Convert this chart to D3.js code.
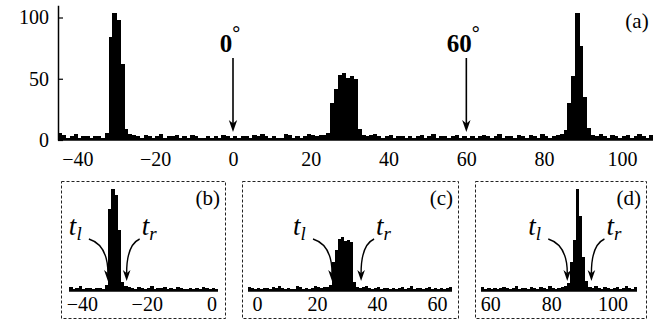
<!DOCTYPE html>
<html>
<head>
<meta charset="utf-8">
<script src="https://cdn.jsdelivr.net/npm/d3@7"></script>
<style>
  body { margin: 0; background: #fff; }
  svg, svg text { font-family: 'Liberation Serif', 'DejaVu Serif', 'Times New Roman', Times, serif; }
</style>
</head>
<body>
<div id="chart"></div>
<script>
// histogram, 1 degree bins, first bin starts at -45
const binStart = -45;
const binWidth = 1;
const counts = [
  6, 4, 2, 3, 5, 2, 3, 3, 2, 3,        // -45 .. -36
  3, 2, 6, 84, 104, 98, 62, 9, 5, 4,   // -35 .. -26
  3, 2, 4, 3, 2, 3, 5, 2, 3, 3,        // -25 .. -16
  4, 2, 3, 2, 4, 3, 2, 2, 3, 2,        // -15 .. -6
  3, 2, 4, 3, 2, 3, 2, 3, 3, 2,        // -5 .. 4
  4, 3, 5, 3, 2, 3, 2, 2, 5, 4,        // 5 .. 14
  2, 3, 2, 3, 5, 4, 3, 4, 4, 6,        // 15 .. 24
  30, 42, 53, 55, 51, 52, 50, 9, 4, 3, // 25 .. 34
  4, 5, 3, 2, 3, 4, 2, 3, 3, 2,        // 35 .. 44
  3, 2, 3, 4, 2, 3, 5, 2, 3, 3,        // 45 .. 54
  2, 3, 4, 2, 3, 2, 3, 2, 3, 4,        // 55 .. 64
  3, 2, 3, 5, 2, 3, 3, 2, 4, 3,        // 65 .. 74
  2, 4, 3, 2, 5, 3, 2, 3, 4, 5,        // 75 .. 84
  8, 30, 52, 104, 77, 35, 10, 4, 3, 5, // 85 .. 94
  3, 2, 4, 3, 2, 3, 4, 2, 3, 5,        // 95 .. 104
  3, 2, 4                              // 105 .. 107
];

const mainTicksX = [-40, -20, 0, 20, 40, 60, 80, 100];
const mainTicksY = [0, 50, 100];
const markerAngles = [0, 60];

// insets: label, bin range shown, tick labels
const insetNames = ["(b)", "(c)", "(d)"];
const insetBins = [[-44, 1], [-3, 64], [57, 107]];
const insetTicks = [[-40, -20, 0], [0, 20, 40, 60], [60, 80, 100]];
const leftEdges = [-32, 25, 85.2];      // t_l arrow tips
const rightEdges = [-26.2, 34.7, 93.1]; // t_r arrow tips

const bins = counts.map((c, i) => ({ x0: binStart + i * binWidth, value: c }));

const width = 671, height = 324;
const svg = d3.select("#chart").append("svg")
  .attr("width", width)
  .attr("height", height);

function drawBars(g, data, x, y) {
  g.append("g")
    .selectAll("rect")
    .data(data)
    .enter()
    .append("rect")
    .attr("x", d => x(d.x0))
    .attr("y", d => y(d.value))
    .attr("width", d => x(d.x0 + binWidth) - x(d.x0) + 0.4)
    .attr("height", d => y(0) - y(d.value))
    .attr("fill", "#000")
    .attr("shape-rendering", "crispEdges");
}

// ---- main panel (a)
const x = d3.scaleLinear().domain([-45, 108]).range([58, 653]);
const y = d3.scaleLinear().domain([0, 110]).range([140, 5.25]);

drawBars(svg, bins, x, y);

svg.append("line")
  .attr("x1", x.range()[0]).attr("x2", x.range()[1])
  .attr("y1", y(0)).attr("y2", y(0))
  .attr("stroke", "#000").attr("stroke-width", 1.5);

const xAxis = svg.append("g")
  .attr("transform", `translate(0,${y(0)})`)
  .call(d3.axisBottom(x).tickValues(mainTicksX).tickSize(0).tickPadding(12))
  .attr("font-family", null).attr("font-size", 20);
xAxis.select(".domain").remove();

const yAxis = svg.append("g")
  .attr("transform", `translate(${x.range()[0]},0)`)
  .call(d3.axisLeft(y).tickValues(mainTicksY).tickSizeInner(-5).tickSizeOuter(0).tickPadding(9))
  .attr("font-family", null).attr("font-size", 20);
yAxis.select(".domain").attr("stroke-width", 1.5);
yAxis.selectAll(".tick line").attr("stroke-width", 1.2);

// arrow head pointing along angle (radians, PI/2 = down)
function arrowHead(g, tx, ty, angle, len, half) {
  const c = Math.cos(angle), s = Math.sin(angle);
  const pts = [
    [tx, ty],
    [tx - len * c + half * s, ty - len * s - half * c],
    [tx - len * 0.7 * c, ty - len * 0.7 * s],
    [tx - len * c - half * s, ty - len * s + half * c]
  ];
  g.append("path")
    .attr("d", d3.line()(pts) + "Z")
    .attr("fill", "#000");
}

// vertical markers at 0 and 60 degrees
markerAngles.forEach(a => {
  const px = x(a);
  svg.append("line")
    .attr("x1", px).attr("x2", px)
    .attr("y1", 58).attr("y2", 124)
    .attr("stroke", "#000").attr("stroke-width", 1.6);
  arrowHead(svg, px, 132, Math.PI / 2, 12, 4.2);
  const t = svg.append("text")
    .attr("x", px - 3)
    .attr("y", 52)
    .attr("text-anchor", "middle")
    .attr("font-size", 25)
    .attr("font-weight", "bold");
  t.append("tspan").text(String(a));
  t.append("tspan").attr("font-size", 20).attr("dy", -12).text("°");
});

svg.append("text")
  .attr("x", 637).attr("y", 28)
  .attr("text-anchor", "middle")
  .attr("font-size", 21)
  .text("(a)");

// ---- insets (b), (c), (d)
const boxes = [[61, 225], [242, 458], [475, 646]];
const insetRanges = [[69, 218], [248, 452], [481, 637]];
const boxTop = 181, boxBottom = 318;
const yIn = d3.scaleLinear().domain([0, 100]).range([291, 193]);

insetNames.forEach((name, k) => {
  const g = svg.append("g");
  const [lo, hi] = insetBins[k];
  const xi = d3.scaleLinear().domain([lo, hi + 1]).range(insetRanges[k]);

  g.append("rect")
    .attr("x", boxes[k][0] + 0.5).attr("y", boxTop + 0.5)
    .attr("width", boxes[k][1] - boxes[k][0])
    .attr("height", boxBottom - boxTop)
    .attr("fill", "none")
    .attr("stroke", "#222")
    .attr("stroke-width", 1)
    .attr("stroke-dasharray", "3,2");

  drawBars(g, bins.filter(d => d.x0 >= lo && d.x0 <= hi), xi, yIn);

  g.append("line")
    .attr("x1", xi(lo)).attr("x2", xi(hi + 1))
    .attr("y1", yIn(0)).attr("y2", yIn(0))
    .attr("stroke", "#000").attr("stroke-width", 1.5);

  const ax = g.append("g")
    .attr("transform", `translate(0,${yIn(0)})`)
    .call(d3.axisBottom(xi).tickValues(insetTicks[k]).tickSize(0).tickPadding(6))
    .attr("font-family", null).attr("font-size", 20);
  ax.select(".domain").remove();

  g.append("text")
    .attr("x", boxes[k][1] - 5).attr("y", 205)
    .attr("text-anchor", "end")
    .attr("font-size", 21)
    .text(name);

  // t_l arrow
  const lx = xi(leftEdges[k]), tipY = 281;
  const ls = [lx - 19, 239];
  g.append("path")
    .attr("d", `M${ls[0]},${ls[1]} Q${lx},${ls[1] + 6} ${lx},${tipY - 8}`)
    .attr("fill", "none").attr("stroke", "#000").attr("stroke-width", 1.4);
  arrowHead(g, lx, tipY, Math.PI / 2, 11, 3.8);
  const tl = g.append("text")
    .attr("x", lx - 39).attr("y", 235)
    .attr("font-size", 27).attr("font-style", "italic");
  tl.append("tspan").text("t");
  tl.append("tspan").attr("font-size", 19).attr("dy", 5).text("l");

  // t_r arrow
  const rx = xi(rightEdges[k]);
  const rs = [rx + 13, 239];
  g.append("path")
    .attr("d", `M${rs[0]},${rs[1]} Q${rx},${rs[1] + 6} ${rx},${tipY - 8}`)
    .attr("fill", "none").attr("stroke", "#000").attr("stroke-width", 1.4);
  arrowHead(g, rx, tipY, Math.PI / 2, 11, 3.8);
  const tr = g.append("text")
    .attr("x", rx + 15).attr("y", 235)
    .attr("font-size", 27).attr("font-style", "italic");
  tr.append("tspan").text("t");
  tr.append("tspan").attr("font-size", 19).attr("dy", 5).text("r");
});
</script>
</body>
</html>
